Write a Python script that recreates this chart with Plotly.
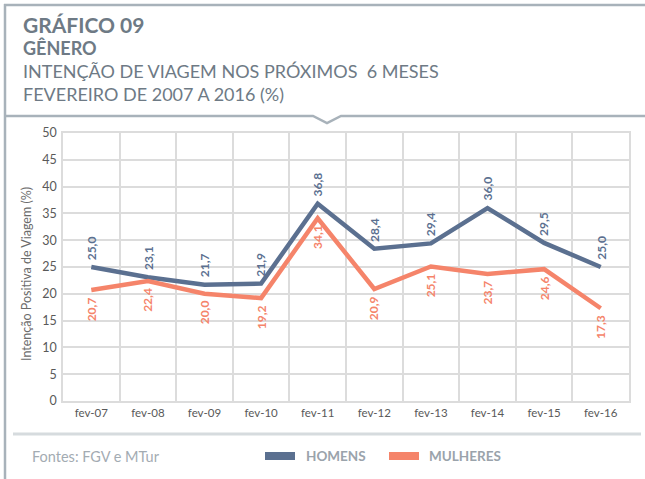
import plotly.graph_objects as go

categories = ["fev-07", "fev-08", "fev-09", "fev-10", "fev-11", "fev-12", "fev-13", "fev-14", "fev-15", "fev-16"]
homens = [25.0, 23.1, 21.7, 21.9, 36.8, 28.4, 29.4, 36.0, 29.5, 25.0]
mulheres = [20.7, 22.4, 20.0, 19.2, 34.1, 20.9, 25.1, 23.7, 24.6, 17.3]
y_ticks = [0, 5, 10, 15, 20, 25, 30, 35, 40, 45, 50]

BLUE = "#5b7090"
ORANGE = "#f5846a"
GRAY_TXT = "#6e7a85"
FONT = "Lato"

W, H = 645, 479
L, R, T, B = 63, 16, 133, 78
pw, ph = W - L - R, H - T - B

def px(x):
    return (x - L) / pw

def py(y):
    return (H - B - y) / ph

fmt = lambda v: f"{v:.1f}".replace(".", ",")

fig = go.Figure()
fig.add_trace(go.Scatter(x=categories, y=homens, mode="lines", name="HOMENS",
                         line=dict(color=BLUE, width=4.5), hoverinfo="skip"))
fig.add_trace(go.Scatter(x=categories, y=mulheres, mode="lines", name="MULHERES",
                         line=dict(color=ORANGE, width=4.5), hoverinfo="skip"))

annotations = []
for c, v in zip(categories, homens):
    annotations.append(dict(x=c, y=v, xref="x", yref="y", text=f"<b>{fmt(v)}</b>", textangle=-90,
                            showarrow=False, yanchor="bottom", xanchor="center", yshift=5,
                            font=dict(family=FONT, size=12, color=BLUE)))
for c, v in zip(categories, mulheres):
    annotations.append(dict(x=c, y=v, xref="x", yref="y", text=f"<b>{fmt(v)}</b>", textangle=-90,
                            showarrow=False, yanchor="top", xanchor="center", yshift=-5,
                            font=dict(family=FONT, size=12, color=ORANGE)))

# Titles
titles = [
    ("<b>GRÁFICO 09</b>", 21, 24, 21),
    ("<b>GÊNERO</b>", 21, 48, 18),
    ("INTENÇÃO DE VIAGEM NOS PRÓXIMOS  6 MESES", 21, 71, 18),
    ("FEVEREIRO DE 2007 A 2016 (%)", 21, 94, 18),
]
for text, x, y, s in titles:
    annotations.append(dict(x=px(x), y=py(y), xref="paper", yref="paper", text=text, showarrow=False,
                            xanchor="left", yanchor="middle", font=dict(family=FONT, size=s, color=GRAY_TXT)))

# Axis title
annotations.append(dict(x=px(26), y=py(274), xref="paper", yref="paper", text="Intenção Positiva de Viagem (%)",
                        textangle=-90, showarrow=False, xanchor="center", yanchor="middle",
                        font=dict(family=FONT, size=12.5, color="#6b6b6b")))

# Footer
annotations.append(dict(x=px(30), y=py(456), xref="paper", yref="paper", text="Fontes: FGV e MTur",
                        showarrow=False, xanchor="left", yanchor="middle",
                        font=dict(family=FONT, size=14.5, color="#a3abb2")))
annotations.append(dict(x=px(304), y=py(456), xref="paper", yref="paper", text="<b>HOMENS</b>",
                        showarrow=False, xanchor="left", yanchor="middle",
                        font=dict(family=FONT, size=13.5, color="#9aa3ab")))
annotations.append(dict(x=px(427), y=py(456), xref="paper", yref="paper", text="<b>MULHERES</b>",
                        showarrow=False, xanchor="left", yanchor="middle",
                        font=dict(family=FONT, size=13.5, color="#9aa3ab")))

FRAME = "#a8b2ba"
shapes = [
    dict(type="line", xref="paper", yref="paper", x0=px(4), x1=px(645), y0=py(5), y1=py(5),
         line=dict(color=FRAME, width=2.5)),
    dict(type="line", xref="paper", yref="paper", x0=px(5), x1=px(5), y0=py(4), y1=py(479),
         line=dict(color=FRAME, width=2.5)),
    dict(type="path", xref="paper", yref="paper",
         path=f"M {px(4)},{py(116)} L {px(313)},{py(116)} L {px(327)},{py(123)} L {px(341)},{py(116)} L {px(645)},{py(116)}",
         line=dict(color=FRAME, width=2.5)),
    dict(type="line", xref="paper", yref="paper", x0=px(13), x1=px(641), y0=py(434), y1=py(434),
         line=dict(color="#d6dbde", width=3)),
    dict(type="rect", xref="paper", yref="paper", x0=px(265), x1=px(295), y0=py(452), y1=py(460),
         fillcolor=BLUE, line=dict(width=0)),
    dict(type="rect", xref="paper", yref="paper", x0=px(389), x1=px(419), y0=py(452), y1=py(460),
         fillcolor=ORANGE, line=dict(width=0)),
]

GRID = "#dcdcdc"
fig.update_layout(
    width=W, height=H,
    margin=dict(l=L, r=R, t=T, b=B),
    paper_bgcolor="white", plot_bgcolor="white",
    showlegend=False,
    annotations=annotations,
    shapes=shapes,
    xaxis=dict(type="category", categoryorder="array", categoryarray=categories,
               tickson="boundaries", showgrid=True, gridcolor=GRID, gridwidth=1.5,
               showline=True, linecolor=GRID, linewidth=1.5, mirror=True,
               ticks="", tickfont=dict(family=FONT, size=11.5, color="#595959"),
               range=[-0.5, len(categories) - 0.5]),
    yaxis=dict(range=[0, 50], tickvals=y_ticks, showgrid=True, gridcolor=GRID, gridwidth=1.5,
               showline=True, linecolor=GRID, linewidth=1.5, mirror=True, zeroline=False,
               ticks="", ticklabelstandoff=2, tickfont=dict(family=FONT, size=12.5, color="#595959")),
)

fig.write_html("out.html", config={"displayModeBar": False},
               post_script="document.body.style.margin='0';")
